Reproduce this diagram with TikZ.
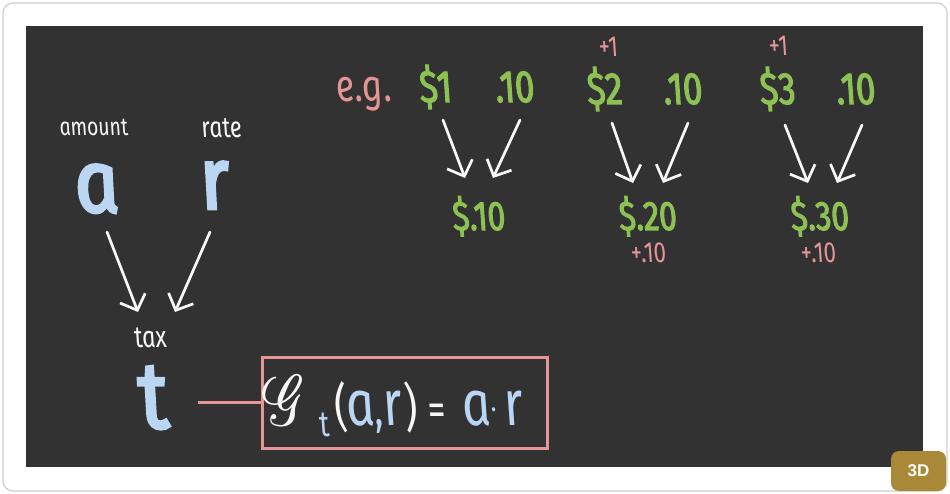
\documentclass[tikz,border=0pt]{standalone}
\usepackage{fontspec}
\usepackage{graphicx}
\usepackage{mathrsfs}
\setmainfont{Fira Sans}
\newfontfamily\hand[FakeStretch=0.78]{Fira Sans}
\newfontfamily\handbold[FakeStretch=0.78,FakeBold=2.5]{Fira Sans}
\newfontfamily\bighand[FakeStretch=0.88,FakeBold=3.2]{Fira Sans}
\newfontfamily\badgefont{Liberation Sans}
\usetikzlibrary{arrows.meta}
\definecolor{board}{HTML}{323232}
\definecolor{chalk}{HTML}{F8F8F8}
\definecolor{sky}{HTML}{BAD6F3}
\definecolor{leaf}{HTML}{8DC153}
\definecolor{rose}{HTML}{E59595}
\definecolor{gold}{HTML}{A98838}
\definecolor{framegray}{HTML}{CFCFCF}
\tikzset{
  upright/.style={xslant=-0.18, transform shape},
  lbl/.style={upright, text=chalk, font=\hand\itshape\fontsize{25}{25}\selectfont, inner sep=0pt, anchor=base},
  var/.style={upright, text=sky, font=\bighand\itshape\fontsize{88}{88}\selectfont, inner sep=0pt, anchor=base},
  money/.style={upright, text=leaf, font=\handbold\itshape\fontsize{45}{45}\selectfont, inner sep=0pt, anchor=base},
  result/.style={upright, text=leaf, font=\handbold\itshape\fontsize{41}{41}\selectfont, inner sep=0pt, anchor=base},
  note/.style={upright, text=rose, font=\hand\itshape\fontsize{29}{29}\selectfont, inner sep=0pt, anchor=base},
  chalkarrow/.style={draw=chalk, line width=2.7pt, line cap=round,
    -{Straight Barb[length=13pt,width=27pt,line width=2.7pt]}},
}
\newcommand{\fpart}[2]{\makebox[#1pt][c]{#2}}
\begin{document}
\begin{tikzpicture}[x=1pt,y=-1pt]
\useasboundingbox (0,0) rectangle (950,494);
\fill[white] (0,0) rectangle (950,494);
\draw[framegray, line width=1.2pt, fill=white, rounded corners=10pt] (3,3) rectangle (947,491);
\fill[board] (26,26) rectangle (923,467);

% left part
\node[lbl] (amount) at (95,136) {amount};
\node[lbl, font=\hand\itshape\fontsize{29}{29}\selectfont] (ratelbl) at (223,138) {rate};
\node[var] (a) at (101,212) {a};
\node[var] (r) at (219,209) {r};
\node[lbl, font=\hand\itshape\fontsize{30}{30}\selectfont] (taxlbl) at (152,347) {tax};
\node[var, font=\bighand\itshape\fontsize{94}{94}\selectfont] (t) at (158,428) {t};
\coordinate (as) at (107,232); \coordinate (ae) at (138,312);
\coordinate (rs) at (210,232); \coordinate (re) at (175,312);
\draw[chalkarrow] (as) -- (ae);
\draw[chalkarrow] (rs) -- (re);

% formula box
\node[draw=rose, line width=3pt, minimum width=285pt, minimum height=91pt, inner sep=0pt] (box) at (404.5,402.5) {};
\coordinate (tl) at (198,402);
\draw[rose, line width=3pt] (tl) -- (box.west |- tl);
\node[upright, inner sep=0pt, anchor=base west, font=\hand\itshape\fontsize{64}{64}\selectfont] (formula) at (268,425)
  {\fpart{45}{\textcolor{chalk}{\resizebox{46pt}{50pt}{$\mathscr{G}$}}}%
   \fpart{22}{\textcolor{sky}{\raisebox{-11pt}{\fontsize{36}{36}\selectfont t}}}%
   \fpart{17}{\textcolor{chalk}{\fontsize{52}{52}\selectfont(}}%
   \fpart{23}{\textcolor{sky}{a}}%
   \fpart{11}{\textcolor{sky}{\fontsize{48}{48}\selectfont,}}%
   \fpart{19}{\textcolor{sky}{r}}%
   \fpart{18}{\textcolor{chalk}{\fontsize{52}{52}\selectfont)}}%
   \fpart{33}{\textcolor{chalk}{\fontsize{46}{46}\selectfont=}}%
   \fpart{12}{}%
   \fpart{22}{\textcolor{sky}{a}}%
   \fpart{14}{\textcolor{sky}{\raisebox{14pt}{\fontsize{30}{30}\selectfont.}}}%
   \fpart{26}{\textcolor{sky}{r}}};

% examples
\node[note, font=\hand\itshape\fontsize{45}{45}\selectfont] (eg) at (366,102) {e.g.};
\node[money] (d1) at (438,102) {\$1};
\node[money] (p1) at (517,102) {.10};
\node[money] (d2) at (607,104) {\$2};
\node[money] (p2) at (685,104) {.10};
\node[money] (d3) at (780,104) {\$3};
\node[money] (p3) at (858,104) {.10};
\node[note] (inc2) at (610,57) {+1};
\node[note] (inc3) at (780,56) {+1};
\node[result] (t1) at (481,230) {\$.10};
\node[result] (t2) at (650,230) {\$.20};
\node[result] (t3) at (822,230) {\$.30};
\node[note] (dt2) at (650,263) {+.10};
\node[note] (dt3) at (820,263) {+.10};

\coordinate (g1a) at (443,120); \coordinate (g1b) at (465,178);
\coordinate (g1c) at (520,120); \coordinate (g1d) at (493,178);
\coordinate (g2a) at (612,123); \coordinate (g2b) at (633,183);
\coordinate (g2c) at (688,123); \coordinate (g2d) at (663,183);
\coordinate (g3a) at (785,125); \coordinate (g3b) at (808,183);
\coordinate (g3c) at (862,125); \coordinate (g3d) at (837,183);
\draw[chalkarrow] (g1a) -- (g1b);
\draw[chalkarrow] (g1c) -- (g1d);
\draw[chalkarrow] (g2a) -- (g2b);
\draw[chalkarrow] (g2c) -- (g2d);
\draw[chalkarrow] (g3a) -- (g3b);
\draw[chalkarrow] (g3c) -- (g3d);

% badge
\node[fill=gold, rounded corners=8pt, minimum width=55pt, minimum height=40pt, inner sep=0pt,
  text=white, font=\badgefont\bfseries\fontsize{17}{17}\selectfont] (badge) at (918.5,471) {3D};
\end{tikzpicture}
\end{document}
